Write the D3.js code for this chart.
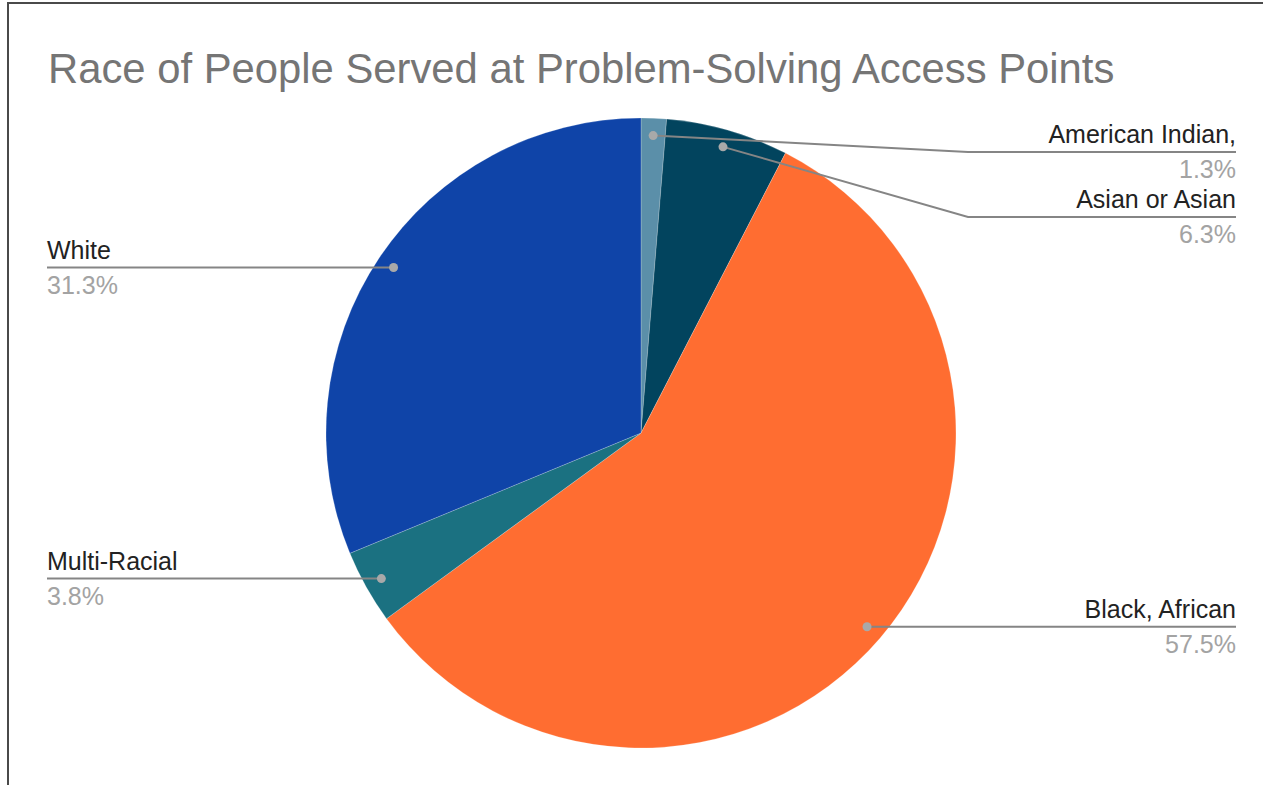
<!DOCTYPE html>
<html>
<head>
<meta charset="utf-8">
<script src="https://cdn.jsdelivr.net/npm/d3@7"></script>
<style>
  html, body { margin: 0; padding: 0; background: #fff; }
  svg { display: block; font-family: "Liberation Sans", Arial, sans-serif; }
</style>
</head>
<body>
<div id="chartContainer"></div>
<script>

var categories = ['American Indian,', 'Asian or Asian', 'Black, African', 'Multi-Racial', 'White']
var shares = [1.3, 6.3, 57.5, 3.8, 31.3]
var percentLabels = ['1.3%', '6.3%', '57.5%', '3.8%', '31.3%']
var sliceColors = ['#5b8fa9', '#02445e', '#ff6d31', '#1b7181', '#0f44a8']

var title = 'Race of People Served at Problem-Solving Access Points'

var width = 1263, height = 785
var cx = 641, cy = 433, radius = 315

var data = categories.map(function(c, i) {
    return { name: c, value: shares[i], pct: percentLabels[i], color: sliceColors[i] }
})

var svg = d3.select('#chartContainer').append('svg')
    .attr('width', width)
    .attr('height', height)

// frame (top and left edges visible in the reference)
svg.append('line')
    .attr('x1', 7).attr('y1', 3).attr('x2', width).attr('y2', 3)
    .style('stroke', '#4a4a4a').style('stroke-width', 2)
svg.append('line')
    .attr('x1', 8).attr('y1', 2).attr('x2', 8).attr('y2', height)
    .style('stroke', '#4a4a4a').style('stroke-width', 2)

svg.append('text')
    .attr('x', 48)
    .attr('y', 83)
    .style('font-size', '41.8px')
    .style('fill', '#757575')
    .text(title)

var pie = d3.pie()
    .sort(null)
    .value(function(d) { return d.value })

var arcs = pie(data)

var arc = d3.arc().innerRadius(0).outerRadius(radius)
var dotArc = d3.arc().innerRadius(radius * 0.945).outerRadius(radius * 0.945)

var pieG = svg.append('g')
    .attr('transform', 'translate(' + cx + ',' + cy + ')')

pieG.selectAll('path')
    .data(arcs)
    .enter()
    .append('path')
    .attr('d', arc)
    .style('fill', function(d) { return d.data.color })
    .style('stroke', 'rgba(255,255,255,0.35)')
    .style('stroke-width', 0.6)

// label layout
var rightX = 1236, leftX = 47, elbowX = 968
var minTop = 152, gap = 65

var labels = arcs.map(function(d) {
    var c = dotArc.centroid(d)
    var mid = (d.startAngle + d.endAngle) / 2
    return { d: d, dx: cx + c[0], dy: cy + c[1], right: mid < Math.PI }
})

var rightLabels = labels.filter(function(l) { return l.right }).sort(function(a, b) { return a.dy - b.dy })
var prev = -Infinity
rightLabels.forEach(function(l) {
    l.ly = Math.max(l.dy, minTop, prev + gap)
    prev = l.ly
})
labels.filter(function(l) { return !l.right }).forEach(function(l) { l.ly = l.dy })

var labelG = svg.append('g')

labels.forEach(function(l) {
    var pts
    if (l.right) {
        pts = Math.abs(l.ly - l.dy) > 1
            ? [[l.dx, l.dy], [elbowX, l.ly], [rightX, l.ly]]
            : [[l.dx, l.dy], [rightX, l.ly]]
    } else {
        pts = [[l.dx, l.dy], [leftX, l.ly]]
    }
    labelG.append('path')
        .attr('d', d3.line()(pts))
        .style('fill', 'none')
        .style('stroke', '#858585')
        .style('stroke-width', 2)

    labelG.append('circle')
        .attr('cx', l.dx)
        .attr('cy', l.dy)
        .attr('r', 4.5)
        .style('fill', '#a9a9a9')

    var tx = l.right ? rightX : leftX
    var anchor = l.right ? 'end' : 'start'

    labelG.append('text')
        .attr('x', tx)
        .attr('y', l.ly - 9)
        .attr('text-anchor', anchor)
        .style('font-size', '25px')
        .style('fill', '#222')
        .text(l.d.data.name)

    labelG.append('text')
        .attr('x', tx)
        .attr('y', l.ly + 26)
        .attr('text-anchor', anchor)
        .style('font-size', '25px')
        .style('fill', '#a3a3a3')
        .text(l.d.data.pct)
})

</script>
</body>
</html>
